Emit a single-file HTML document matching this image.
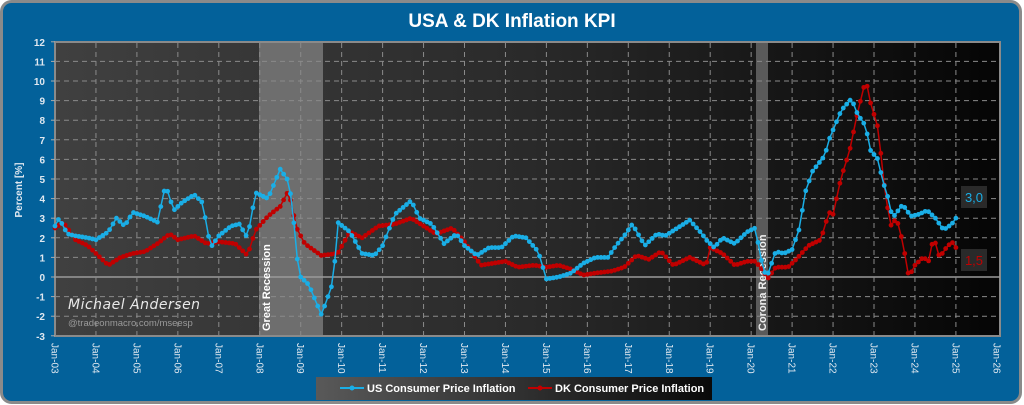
<!DOCTYPE html>
<html><head><meta charset="utf-8"><style>
html,body{margin:0;padding:0;background:#fff;}
svg{display:block;font-family:"Liberation Sans",sans-serif;}
</style></head><body>
<svg id="s" width="1024" height="405" xmlns="http://www.w3.org/2000/svg">
<defs>
<linearGradient id="bg" x1="0" x2="1" y1="0" y2="0">
<stop offset="0" stop-color="#404040"/><stop offset="0.5" stop-color="#2a2a2a"/><stop offset="1" stop-color="#050505"/></linearGradient>
<linearGradient id="lg" x1="0" x2="1"><stop offset="0" stop-color="#595959"/><stop offset="1" stop-color="#0a0a0a"/></linearGradient>
</defs>
<rect x="1.5" y="1.5" width="1019" height="401" rx="10" fill="#03619a" stroke="#8a8a8a" stroke-width="3"/>
<text x="512" y="27" text-anchor="middle" fill="#fff" font-size="19" font-weight="bold">USA &amp; DK Inflation KPI</text>
<rect x="55" y="42" width="945" height="294" fill="url(#bg)" stroke="#8a8a8a" stroke-width="2"/>
<rect x="259" y="43" width="64" height="292" fill="#6e6e6e"/>
<rect x="756" y="43" width="12" height="292" fill="#5a5a5a"/>
<g id="grid"></g>
<text transform="translate(270,331) rotate(-90)" fill="#fff" font-size="11" font-weight="bold">Great Recession</text>
<text transform="translate(766,331) rotate(-90)" fill="#eee" font-size="11" font-weight="bold">Corona Recession</text>
<text x="68" y="309" fill="#e8e8e8" font-size="14" font-style="italic" font-family="'DejaVu Sans',sans-serif" style="letter-spacing:0.5px">Michael Andersen</text>
<text x="68" y="326" fill="#9a9a9a" font-size="9.5">@tradeonmacro.com/mseesp</text>
<text transform="translate(22,190) rotate(-90)" text-anchor="middle" fill="#e0e8f0" font-size="10" font-weight="bold">Percent [%]</text>
<g id="series"></g>
<rect x="961" y="186" width="26" height="22" fill="#2a2a2a"/>
<text x="974" y="202" text-anchor="middle" fill="#1aaee6" font-size="13">3,0</text>
<rect x="961" y="249" width="26" height="22" fill="#2a2a2a"/>
<text x="974" y="265" text-anchor="middle" fill="#c00000" font-size="13">1,5</text>
<rect x="316" y="377" width="396" height="23" fill="url(#lg)"/>
<line x1="340" y1="388" x2="364" y2="388" stroke="#1aaee6" stroke-width="2"/><circle cx="352" cy="388" r="2.5" fill="#1aaee6"/>
<text x="367" y="392" fill="#fff" font-size="11" font-weight="bold">US Consumer Price Inflation</text>
<line x1="528" y1="388" x2="552" y2="388" stroke="#c00000" stroke-width="2"/><circle cx="540" cy="388" r="2.5" fill="#c00000"/>
<text x="555" y="392" fill="#fff" font-size="11" font-weight="bold">DK Consumer Price Inflation</text>
</svg>
<script>
var NS="http://www.w3.org/2000/svg";
function el(t,a,p){var e=document.createElementNS(NS,t);for(var k in a)e.setAttribute(k,a[k]);p.appendChild(e);return e;}
function X(y){return 55+(y-2003)*40.95;}
function Y(v){return 277-v*19.6;}
var g=document.getElementById('grid'),s=document.getElementById('s');
for(var v=-3;v<=12;v++){
 if(v>-3&&v<12){el('line',{x1:55,x2:1000,y1:Y(v),y2:Y(v),stroke:v==0?'#9a9a9a':'#8a8a8a','stroke-width':v==0?1.5:1,'stroke-dasharray':v==0?'':'5,4'},g);}
 var t=el('text',{x:45,y:Y(v)+4,'text-anchor':'end',fill:'#e0e8f0','font-size':10,'font-weight':'bold'},s);t.textContent=v;
 el('line',{x1:51,x2:55,y1:Y(v),y2:Y(v),stroke:'#aaa'},s);
}
for(var yr=2003;yr<=2026;yr++){
 var x=X(yr);
 if(yr>2003&&yr<2026)el('line',{x1:x,x2:x,y1:43,y2:335,stroke:'#8a8a8a','stroke-dasharray':'5,4'},g);
 var t=el('text',{transform:'translate('+(x-3.5)+',343) rotate(90)',fill:'#e0e8f0','font-size':10},s);
 t.textContent='Jan-'+String(yr%100).padStart(2,'0');
}
var us=[2003.0,2.6,2003.1,3.0,2003.3,2.2,2003.5,2.1,2003.8,2.0,2004.0,1.9,2004.3,2.3,2004.5,3.0,2004.7,2.6,2004.9,3.3,2005.2,3.1,2005.5,2.8,2005.7,4.7,2005.9,3.4,2006.1,3.8,2006.4,4.2,2006.6,3.8,2006.8,1.5,2007.0,2.1,2007.3,2.6,2007.5,2.7,2007.7,2.0,2007.9,4.3,2008.2,4.0,2008.5,5.5,2008.7,4.9,2008.8,3.6,2008.9,1.1,2009.0,0.0,2009.2,-0.4,2009.5,-1.9,2009.6,-1.4,2009.8,-0.2,2009.9,2.8,2010.2,2.3,2010.5,1.2,2010.8,1.1,2011.0,1.6,2011.3,3.2,2011.7,3.9,2011.9,3.0,2012.2,2.7,2012.5,1.7,2012.8,2.2,2013.0,1.6,2013.3,1.1,2013.6,1.5,2013.9,1.5,2014.2,2.1,2014.5,2.0,2014.8,1.3,2015.0,-0.1,2015.3,0.0,2015.6,0.2,2015.9,0.7,2016.2,1.0,2016.5,1.0,2016.7,1.6,2016.9,2.1,2017.1,2.7,2017.4,1.6,2017.7,2.2,2017.9,2.1,2018.2,2.5,2018.5,2.9,2018.8,2.2,2018.9,1.9,2019.1,1.5,2019.3,2.0,2019.6,1.7,2019.9,2.3,2020.1,2.5,2020.3,0.3,2020.4,0.1,2020.6,1.3,2020.8,1.2,2021.0,1.4,2021.2,2.6,2021.3,4.2,2021.5,5.4,2021.8,6.2,2021.9,7.0,2022.2,8.5,2022.45,9.1,2022.6,8.3,2022.8,7.7,2022.9,6.5,2023.1,6.0,2023.2,5.0,2023.35,4.0,2023.45,3.0,2023.7,3.7,2023.9,3.1,2024.1,3.2,2024.3,3.4,2024.5,3.0,2024.7,2.4,2024.9,2.7,2025.0,3.0];
var dk=[2003.0,2.5,2003.2,2.8,2003.5,1.9,2003.8,1.6,2004.0,1.2,2004.3,0.6,2004.6,1.0,2004.9,1.2,2005.2,1.3,2005.5,1.7,2005.8,2.2,2006.0,1.9,2006.4,2.1,2006.7,1.7,2007.0,1.8,2007.4,1.7,2007.7,1.1,2007.9,2.4,2008.2,3.1,2008.5,3.6,2008.7,4.4,2008.9,2.5,2009.1,1.7,2009.5,1.1,2009.9,1.2,2010.2,2.3,2010.5,2.0,2010.9,2.6,2011.3,2.7,2011.7,3.0,2012.0,2.6,2012.3,2.2,2012.7,2.5,2013.0,1.8,2013.4,0.6,2013.7,0.7,2014.0,0.8,2014.3,0.5,2014.7,0.6,2015.0,0.5,2015.3,0.6,2015.6,0.4,2015.9,0.1,2016.2,0.2,2016.6,0.3,2016.9,0.5,2017.2,1.1,2017.5,0.9,2017.8,1.3,2018.1,0.6,2018.5,1.0,2018.9,0.6,2019.0,1.5,2019.3,1.2,2019.6,0.6,2019.9,0.8,2020.1,0.8,2020.3,0.3,2020.4,-0.1,2020.6,0.5,2020.9,0.5,2021.1,0.9,2021.4,1.6,2021.7,1.9,2021.9,3.3,2022.0,3.2,2022.2,5.1,2022.4,6.4,2022.6,8.4,2022.8,10.1,2022.9,9.0,2023.1,7.6,2023.25,4.7,2023.4,2.6,2023.55,3.0,2023.7,1.8,2023.85,0.0,2024.0,0.6,2024.2,1.0,2024.35,0.8,2024.45,2.1,2024.6,1.0,2024.8,1.6,2024.95,1.8,2025.0,1.5];
function interp(a,t){for(var i=0;i<a.length-2;i+=2){if(t<=a[i+2]){var f=(t-a[i])/(a[i+2]-a[i]);return a[i+1]+f*(a[i+3]-a[i+1]);}}return a[a.length-1];}
var sg=document.getElementById('series');
function draw(a,c){var pts=[];for(var m=0;m<=264;m++){var t=2003+m/12;pts.push([X(t),Y(interp(a,t))]);}
 el('polyline',{points:pts.map(function(p){return p[0].toFixed(1)+','+p[1].toFixed(1)}).join(' '),fill:'none',stroke:c,'stroke-width':1.5},sg);
 pts.forEach(function(p){el('circle',{cx:p[0],cy:p[1],r:2.4,fill:c},sg);});}
draw(dk,'#c00000');draw(us,'#1aaee6');
</script>
</body></html>
